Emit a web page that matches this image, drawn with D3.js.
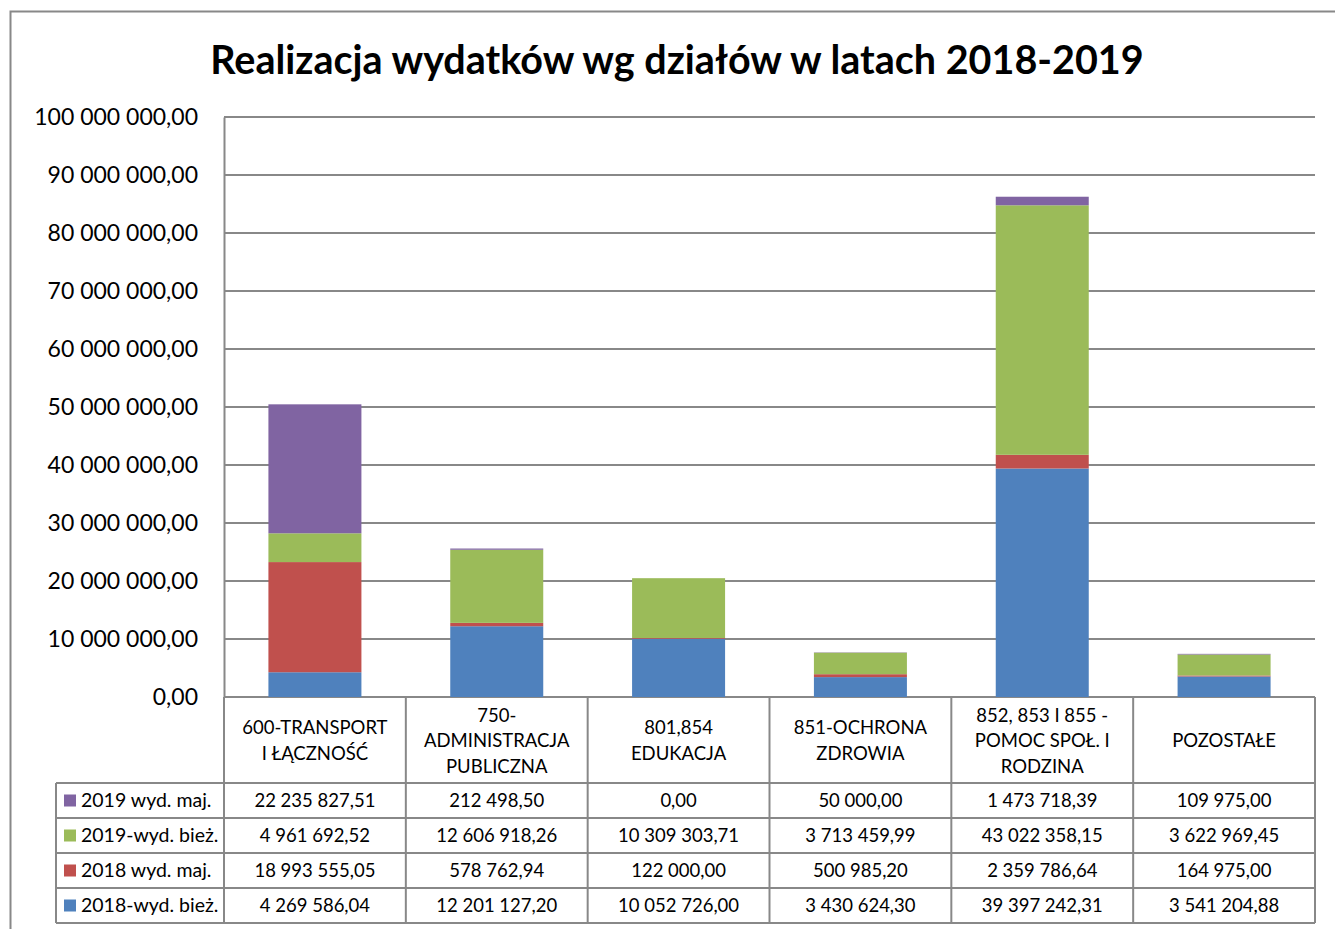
<!DOCTYPE html>
<html>
<head>
<meta charset="utf-8">
<script src="https://cdn.jsdelivr.net/npm/d3@7"></script>
<style>
  body { margin: 0; background: #fff; }
  svg { display: block; font-family: Lato, "Liberation Sans", sans-serif; }
</style>
</head>
<body>
<div id="chart"></div>
<script>
'use strict';

// categories (header lines of the data table)
const categories = [
  ['600-TRANSPORT', 'I ŁĄCZNOŚĆ'],
  ['750-', 'ADMINISTRACJA', 'PUBLICZNA'],
  ['801,854', 'EDUKACJA'],
  ['851-OCHRONA', 'ZDROWIA'],
  ['852, 853 I 855 -', 'POMOC SPOŁ. I', 'RODZINA'],
  ['POZOSTAŁE']
];

// series, bottom of the stack first
const seriesNames = ['2018-wyd. bież.', '2018 wyd. maj.', '2019-wyd. bież.', '2019 wyd. maj.'];
const seriesColors = ['#4F81BD', '#C0504D', '#9BBB59', '#8064A2'];

const wyd2018biez = [4269586.04, 12201127.20, 10052726.00, 3430624.30, 39397242.31, 3541204.88];
const wyd2018maj  = [18993555.05, 578762.94, 122000.00, 500985.20, 2359786.64, 164975.00];
const wyd2019biez = [4961692.52, 12606918.26, 10309303.71, 3713459.99, 43022358.15, 3622969.45];
const wyd2019maj  = [22235827.51, 212498.50, 0.00, 50000.00, 1473718.39, 109975.00];

const seriesValues = [wyd2018biez, wyd2018maj, wyd2019biez, wyd2019maj];

const yTicks = [0, 10e6, 20e6, 30e6, 40e6, 50e6, 60e6, 70e6, 80e6, 90e6, 100e6];

const title = 'Realizacja wydatków wg działów w latach 2018-2019';

//number format: space thousands, comma decimals
const plFormat = d3.formatLocale({ decimal: ',', thousands: '\u00a0', grouping: [3], currency: ['', ''] }).format(',.2f');
function fmt(v) { return plFormat(v).replace(/\u00a0/g, ' '); }

const W = 1335, H = 929;
const plot = { left: 224, right: 1315, top: 117, bottom: 697 };
const headerH = 86, rowH = 35, legendLeft = 56;
const gridColor = '#888888';
const tableFont = 18.5;

const svg = d3.select('#chart').append('svg').attr('width', W).attr('height', H);

//outer frame
svg.append('rect').attr('x', 10.5).attr('y', 11.5).attr('width', 1340).attr('height', 940)
  .attr('fill', 'none').attr('stroke', gridColor).attr('stroke-width', 2);

//title
svg.append('text').attr('x', 677).attr('y', 74).attr('text-anchor', 'middle')
  .attr('font-size', 39.5).attr('font-weight', 'bold').attr('fill', '#000').text(title);

const x = d3.scaleBand().domain(d3.range(categories.length)).range([plot.left, plot.right]).paddingInner(0).paddingOuter(0);
const y = d3.scaleLinear().domain([0, 100e6]).range([plot.bottom, plot.top]);

//gridlines
svg.append('g').selectAll('line').data(yTicks).join('line')
  .attr('x1', plot.left).attr('x2', plot.right)
  .attr('y1', d => y(d)).attr('y2', d => y(d))
  .attr('stroke', gridColor).attr('stroke-width', 2);

//y axis
const yAxis = d3.axisLeft(y).tickValues(yTicks).tickSize(0).tickPadding(26).tickFormat(fmt);
const gy = svg.append('g').attr('transform', `translate(${plot.left},0)`).call(yAxis);
gy.select('.domain').attr('stroke', gridColor).attr('stroke-width', 2);
gy.selectAll('text').attr('font-size', 23).attr('fill', '#000').attr('font-family', 'Lato, "Liberation Sans", sans-serif');

//stacked bars
const rows = categories.map((c, i) => {
  const o = { i: i };
  seriesNames.forEach((s, j) => { o[s] = seriesValues[j][i]; });
  return o;
});
const stack = d3.stack().keys(seriesNames)(rows);
const barW = 93;

svg.append('g').selectAll('g').data(stack).join('g')
  .attr('fill', (d, i) => seriesColors[i])
  .selectAll('rect').data(d => d).join('rect')
  .attr('x', d => x(d.data.i) + (x.bandwidth() - barW) / 2)
  .attr('width', barW)
  .attr('y', d => y(d[1]))
  .attr('height', d => y(d[0]) - y(d[1]));

//data table
const table = svg.append('g');
const tableTop = plot.bottom;
const tableBottom = tableTop + headerH + rowH * seriesNames.length;

//header text
categories.forEach((lines, i) => {
  const cx = x(i) + x.bandwidth() / 2;
  const lh = 25.5;
  const midY = tableTop + headerH / 2 + 7;
  lines.forEach((ln, k) => {
    table.append('text').attr('x', cx).attr('y', midY + (k - (lines.length - 1) / 2) * lh)
      .attr('text-anchor', 'middle').attr('font-size', tableFont).attr('fill', '#000').text(ln);
  });
});

//rows: top row is last series
const rowOrder = d3.range(seriesNames.length).reverse();
rowOrder.forEach((s, r) => {
  const ry = tableTop + headerH + r * rowH;
  table.append('rect').attr('x', legendLeft + 8).attr('y', ry + rowH / 2 - 6)
    .attr('width', 12).attr('height', 12).attr('fill', seriesColors[s]);
  table.append('text').attr('x', legendLeft + 25).attr('y', ry + rowH / 2 + 6.5)
    .attr('font-size', 19.5).attr('fill', '#000').text(seriesNames[s]);
  seriesValues[s].forEach((v, i) => {
    table.append('text').attr('x', x(i) + x.bandwidth() / 2).attr('y', ry + rowH / 2 + 6.5)
      .attr('text-anchor', 'middle').attr('font-size', tableFont).attr('fill', '#000').text(fmt(v));
  });
});

//table lines
const lines = [];
//horizontal lines of the data rows
for (let r = 0; r <= seriesNames.length; r++) {
  const ly = tableTop + headerH + r * rowH;
  lines.push([legendLeft, ly, plot.right, ly]);
}
//vertical lines
x.domain().forEach(i => lines.push([x(i), tableTop, x(i), tableBottom]));
lines.push([plot.right, tableTop, plot.right, tableBottom]);
lines.push([legendLeft, tableTop + headerH, legendLeft, tableBottom]);

table.selectAll('line').data(lines).join('line')
  .attr('x1', d => d[0]).attr('y1', d => d[1]).attr('x2', d => d[2]).attr('y2', d => d[3])
  .attr('stroke', gridColor).attr('stroke-width', 2);
</script>
</body>
</html>
